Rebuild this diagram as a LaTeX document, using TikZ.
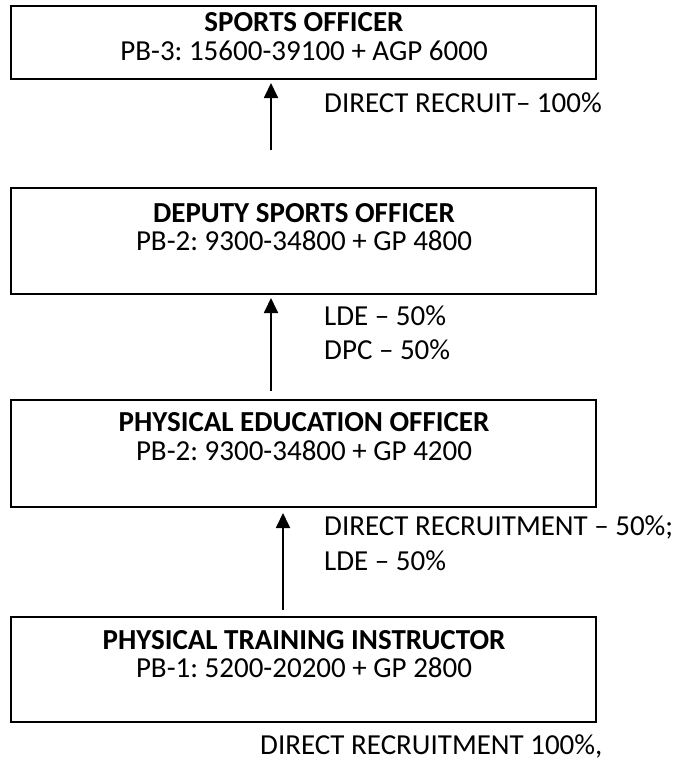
\documentclass[tikz,border=0pt]{standalone}
\usepackage{fontspec}
\setmainfont{Carlito}
\usetikzlibrary{arrows.meta,calc}
\frenchspacing
\begin{document}
\begin{tikzpicture}[x=1pt,y=-1pt,
  post/.style={draw,line width=1.8pt,minimum width=585pt,inner sep=0pt},
  title/.style={font=\fontsize{29}{34}\selectfont\bfseries,inner sep=0pt,anchor=base},
  pay/.style={font=\fontsize{29}{34}\selectfont,inner sep=0pt,anchor=base},
  note/.style={font=\fontsize{29}{34}\selectfont,inner sep=0pt,anchor=base west},
  up/.style={line width=1.8pt,-{Triangle[length=15pt,width=14pt]}}]
\useasboundingbox (0,0) rectangle (679,761);

% posts, top to bottom
\node[post,minimum height=73pt]  (so)  at (303.5,42.5)  {};
\node[post,minimum height=106pt] (dso) at (303.5,241)   {};
\node[post,minimum height=107pt] (peo) at (303.5,453.5) {};
\node[post,minimum height=105pt] (pti) at (303.5,669.5) {};

\node[title] (so-t)  at (304,31)  {SPORTS OFFICER};
\node[pay]   (so-p)  at (304,60)  {PB-3: 15600-39100 + AGP 6000};
\node[title] (dso-t) at (304,222) {DEPUTY SPORTS OFFICER};
\node[pay]   (dso-p) at (304,250) {PB-2: 9300-34800 + GP 4800};
\node[title] (peo-t) at (304,431) {PHYSICAL EDUCATION OFFICER};
\node[pay]   (peo-p) at (304,460) {PB-2: 9300-34800 + GP 4200};
\node[title] (pti-t) at (304,649) {PHYSICAL TRAINING INSTRUCTOR};
\node[pay]   (pti-p) at (304,677) {PB-1: 5200-20200 + GP 2800};

% promotion arrows
\coordinate (a1s) at (271,150); \coordinate (a1e) at (271,83);
\coordinate (a2s) at (271,391); \coordinate (a2e) at (271,298);
\coordinate (a3s) at (283,610); \coordinate (a3e) at (283,513);
\draw[up] (a1s) -- (a1e);
\draw[up] (a2s) -- (a2e);
\draw[up] (a3s) -- (a3e);

% modes of recruitment
\node[note] (n1)  at (324,112) {DIRECT RECRUIT– 100\%};
\node[note] (n2a) at (324,325) {LDE – 50\%};
\node[note] (n2b) at (324,359) {DPC – 50\%};
\node[note] (n3a) at (324,535) {DIRECT RECRUITMENT – 50\%;};
\node[note] (n3b) at (324,570) {LDE – 50\%};
\node[note] (n4)  at (260,754) {DIRECT RECRUITMENT 100\%,};
\end{tikzpicture}
\end{document}
